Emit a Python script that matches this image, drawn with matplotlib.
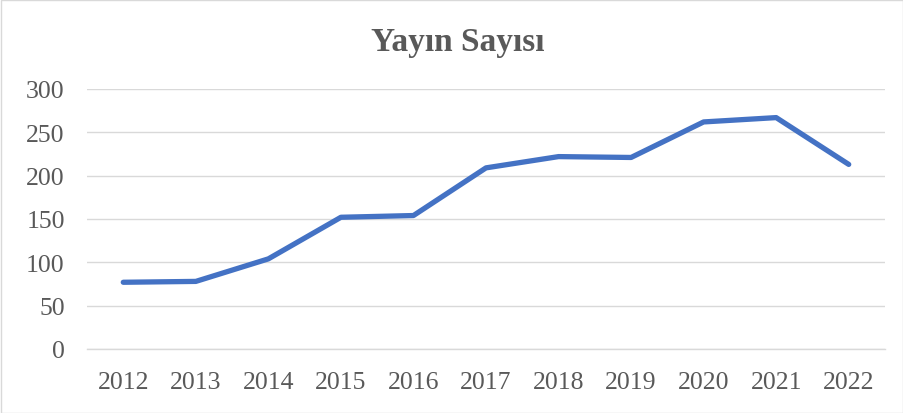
import matplotlib
matplotlib.use("Agg")
import matplotlib.pyplot as plt
from matplotlib.patches import Rectangle

years = ["2012", "2013", "2014", "2015", "2016", "2017", "2018", "2019", "2020", "2021", "2022"]
counts = [77, 78, 104, 152, 154, 209, 222, 221, 262, 267, 213]
yticks = [0, 50, 100, 150, 200, 250, 300]
title = "Yayın Sayısı"

plt.rcParams['font.family'] = ['Liberation Serif', 'DejaVu Serif']
text_color = "#595959"

fig = plt.figure(figsize=(9.04, 4.14), dpi=100)
fig.patches.append(Rectangle((0.5/904, 0.5/414), 1 - 1.5/904, 1 - 1.5/414,
                             transform=fig.transFigure, fill=False,
                             edgecolor="#D9D9D9", linewidth=1.0))
ax = fig.add_axes([87/904, 1 - 350/414, (885 - 87)/904, (350 - 90)/414])

x = list(range(len(years)))
ax.plot(x, counts, color="#4472C4", linewidth=3.8, solid_capstyle="round",
        solid_joinstyle="round", zorder=3)

ax.set_xlim(-0.5, len(years) - 0.5)
ax.set_ylim(0, 300)
ax.set_yticks(yticks)
ax.set_yticklabels([str(v) for v in yticks])
ax.set_xticks(x)
ax.set_xticklabels(years)
ax.grid(axis="y", color="#D9D9D9", linewidth=1.0)
ax.set_axisbelow(True)
for s in ["top", "right", "left"]:
    ax.spines[s].set_visible(False)
ax.spines["bottom"].set_color("#D9D9D9")
ax.spines["bottom"].set_linewidth(1.0)
ax.tick_params(axis="both", length=0, labelsize=18.5, colors=text_color)
ax.tick_params(axis="y", pad=16)
ax.tick_params(axis="x", pad=16)

fig.text(458/904, 1 - 42/414, title, ha="center", va="center",
         fontsize=24, fontweight="bold", color=text_color)

fig.savefig("out.png", dpi=100)
